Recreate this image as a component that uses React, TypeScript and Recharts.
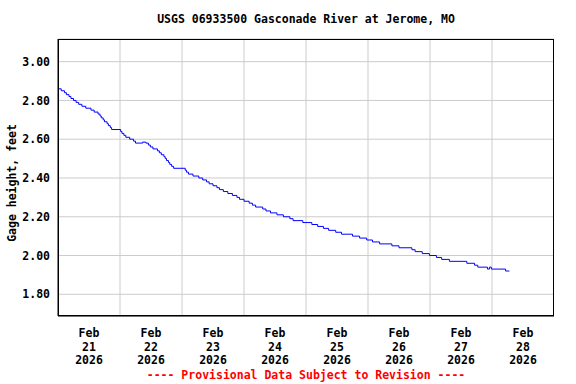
import { LineChart, Line, XAxis, YAxis, CartesianGrid } from 'recharts';

// hours since Feb 21 00:00 where the reading steps to a new value
const hours = [
  0, 1.25, 2.5, 3.25, 4.25, 5, 6, 7, 8, 9.25, 10.75, 12.75, 14, 15.5, 16.25, 16.75, 17.5, 18, 19, 19.5,
  20.25, 20.75, 24.25, 24.75, 25.5, 26.25, 27.75, 29.25, 30, 32.75, 34, 35, 35.75, 36.75, 38.5, 39.25,
  40, 41, 41.5, 42, 42.75, 43.25, 44, 44.75, 49.25, 49.75, 50.5, 52.25, 54.5, 56, 57.5, 58.5, 60, 61.5,
  62.5, 64, 65.75, 67.5, 69.25, 70.25, 72, 74, 75.25, 76.5, 79.25, 80.5, 82.25, 84.75, 87.25, 89.75,
  91, 94.75, 98.25, 100.5, 102.75, 104.75, 107.5, 109.75, 114, 116.75, 119.5, 121.75, 124.5, 129.25,
  132, 137, 138.25, 141, 143.75, 146.5, 148.5, 151.5, 158.25, 161.25, 162.5, 166.25, 167, 167.75,
  173.25, 174.75,
];
const gage = [
  2.86, 2.85, 2.84, 2.83, 2.82, 2.81, 2.8, 2.79, 2.78, 2.77, 2.76, 2.75, 2.74, 2.73, 2.72, 2.71, 2.7, 2.69, 2.68, 2.67,
  2.66, 2.65, 2.64, 2.63, 2.62, 2.61, 2.6, 2.59, 2.58, 2.585, 2.58, 2.57, 2.56, 2.55, 2.54, 2.53,
  2.52, 2.51, 2.5, 2.49, 2.48, 2.47, 2.46, 2.45, 2.44, 2.43, 2.42, 2.41, 2.4, 2.39, 2.38, 2.37, 2.36, 2.35,
  2.34, 2.33, 2.32, 2.31, 2.3, 2.29, 2.28, 2.27, 2.26, 2.25, 2.24, 2.23, 2.22, 2.21, 2.2, 2.19,
  2.18, 2.17, 2.16, 2.15, 2.14, 2.13, 2.12, 2.11, 2.1, 2.09, 2.08, 2.07, 2.06, 2.05,
  2.04, 2.03, 2.02, 2.01, 2.0, 1.99, 1.98, 1.97, 1.96, 1.95, 1.94, 1.93, 1.94, 1.93,
  1.92, 1.92,
];

const dayTicks = [12, 36, 60, 84, 108, 132, 156, 180];
const dayLabels = ['21', '22', '23', '24', '25', '26', '27', '28'];
const midnightTicks = [24, 48, 72, 96, 120, 144, 168];
const yTicks = [1.8, 2.0, 2.2, 2.4, 2.6, 2.8, 3.0];
const X_DOMAIN = [0, 192];
const Y_DOMAIN = [1.688, 3.117];

const data = hours.map((h, i) => ({ h, v: gage[i] }));

const FONT = '"DejaVu Sans Mono", "Liberation Mono", monospace';
const textStyle = { fontFamily: FONT, fontWeight: 'bold' as const, fontSize: 11.5, fill: '#000' };

function DayTick(props: any) {
  const { x, y, payload } = props;
  const idx = dayTicks.indexOf(payload.value);
  return (
    <text x={x} y={y} textAnchor="middle" style={textStyle}>
      <tspan x={x} dy={13}>Feb</tspan>
      <tspan x={x} dy={13.5}>{dayLabels[idx]}</tspan>
      <tspan x={x} dy={13.5}>2026</tspan>
    </text>
  );
}

// vertical grid at midnight, placed through the x axis scale
function midnightLines({ xAxis, offset }: any) {
  if (xAxis && typeof xAxis.scale === 'function') {
    return midnightTicks.map((t) => xAxis.scale(t));
  }
  return midnightTicks.map((t) => offset.left + ((t - X_DOMAIN[0]) / (X_DOMAIN[1] - X_DOMAIN[0])) * offset.width);
}

export default function App() {
  return (
    <div style={{ position: 'absolute', left: 0, top: 0, width: 576, height: 384, background: '#fff' }}>
      <div
        style={{
          position: 'absolute', left: 58, width: 496, top: 12, textAlign: 'center',
          fontFamily: FONT, fontWeight: 'bold', fontSize: 11.5,
        }}
      >
        USGS 06933500 Gasconade River at Jerome, MO
      </div>
      <div
        style={{
          position: 'absolute', left: 12, top: 183, transform: 'translate(-50%, -50%) rotate(-90deg)',
          whiteSpace: 'nowrap', fontFamily: FONT, fontWeight: 'bold', fontSize: 11.5,
        }}
      >
        Gage height, feet
      </div>
      <div
        style={{
          position: 'absolute', left: 58, width: 496, top: 368, textAlign: 'center', color: '#ff0000',
          fontFamily: FONT, fontWeight: 'bold', fontSize: 11.5,
        }}
      >
        ---- Provisional Data Subject to Revision ----
      </div>
      <LineChart width={576} height={384} data={data} margin={{ top: 39, right: 22, bottom: 16, left: 8 }}>
        <CartesianGrid stroke="#cccccc" strokeWidth={1} verticalCoordinatesGenerator={midnightLines} />
        <XAxis
          dataKey="h" type="number" domain={X_DOMAIN} ticks={dayTicks} interval={0}
          tick={<DayTick />} tickLine={false} axisLine={{ stroke: '#000' }} height={52}
        />
        <YAxis
          type="number" domain={Y_DOMAIN} ticks={yTicks} allowDataOverflow interval={0}
          tickFormatter={(v: number) => v.toFixed(2)} tick={textStyle} tickLine={false}
          axisLine={{ stroke: '#000' }} width={50}
        />
        <Line
          type="stepAfter" dataKey="v" stroke="#0000ff" strokeWidth={1} dot={false}
          isAnimationActive={false}
        />
      </LineChart>
      <div
        style={{
          position: 'absolute', left: 58, top: 39, width: 496, height: 277,
          border: '1px solid #000', boxSizing: 'border-box', pointerEvents: 'none',
        }}
      />
    </div>
  );
}
